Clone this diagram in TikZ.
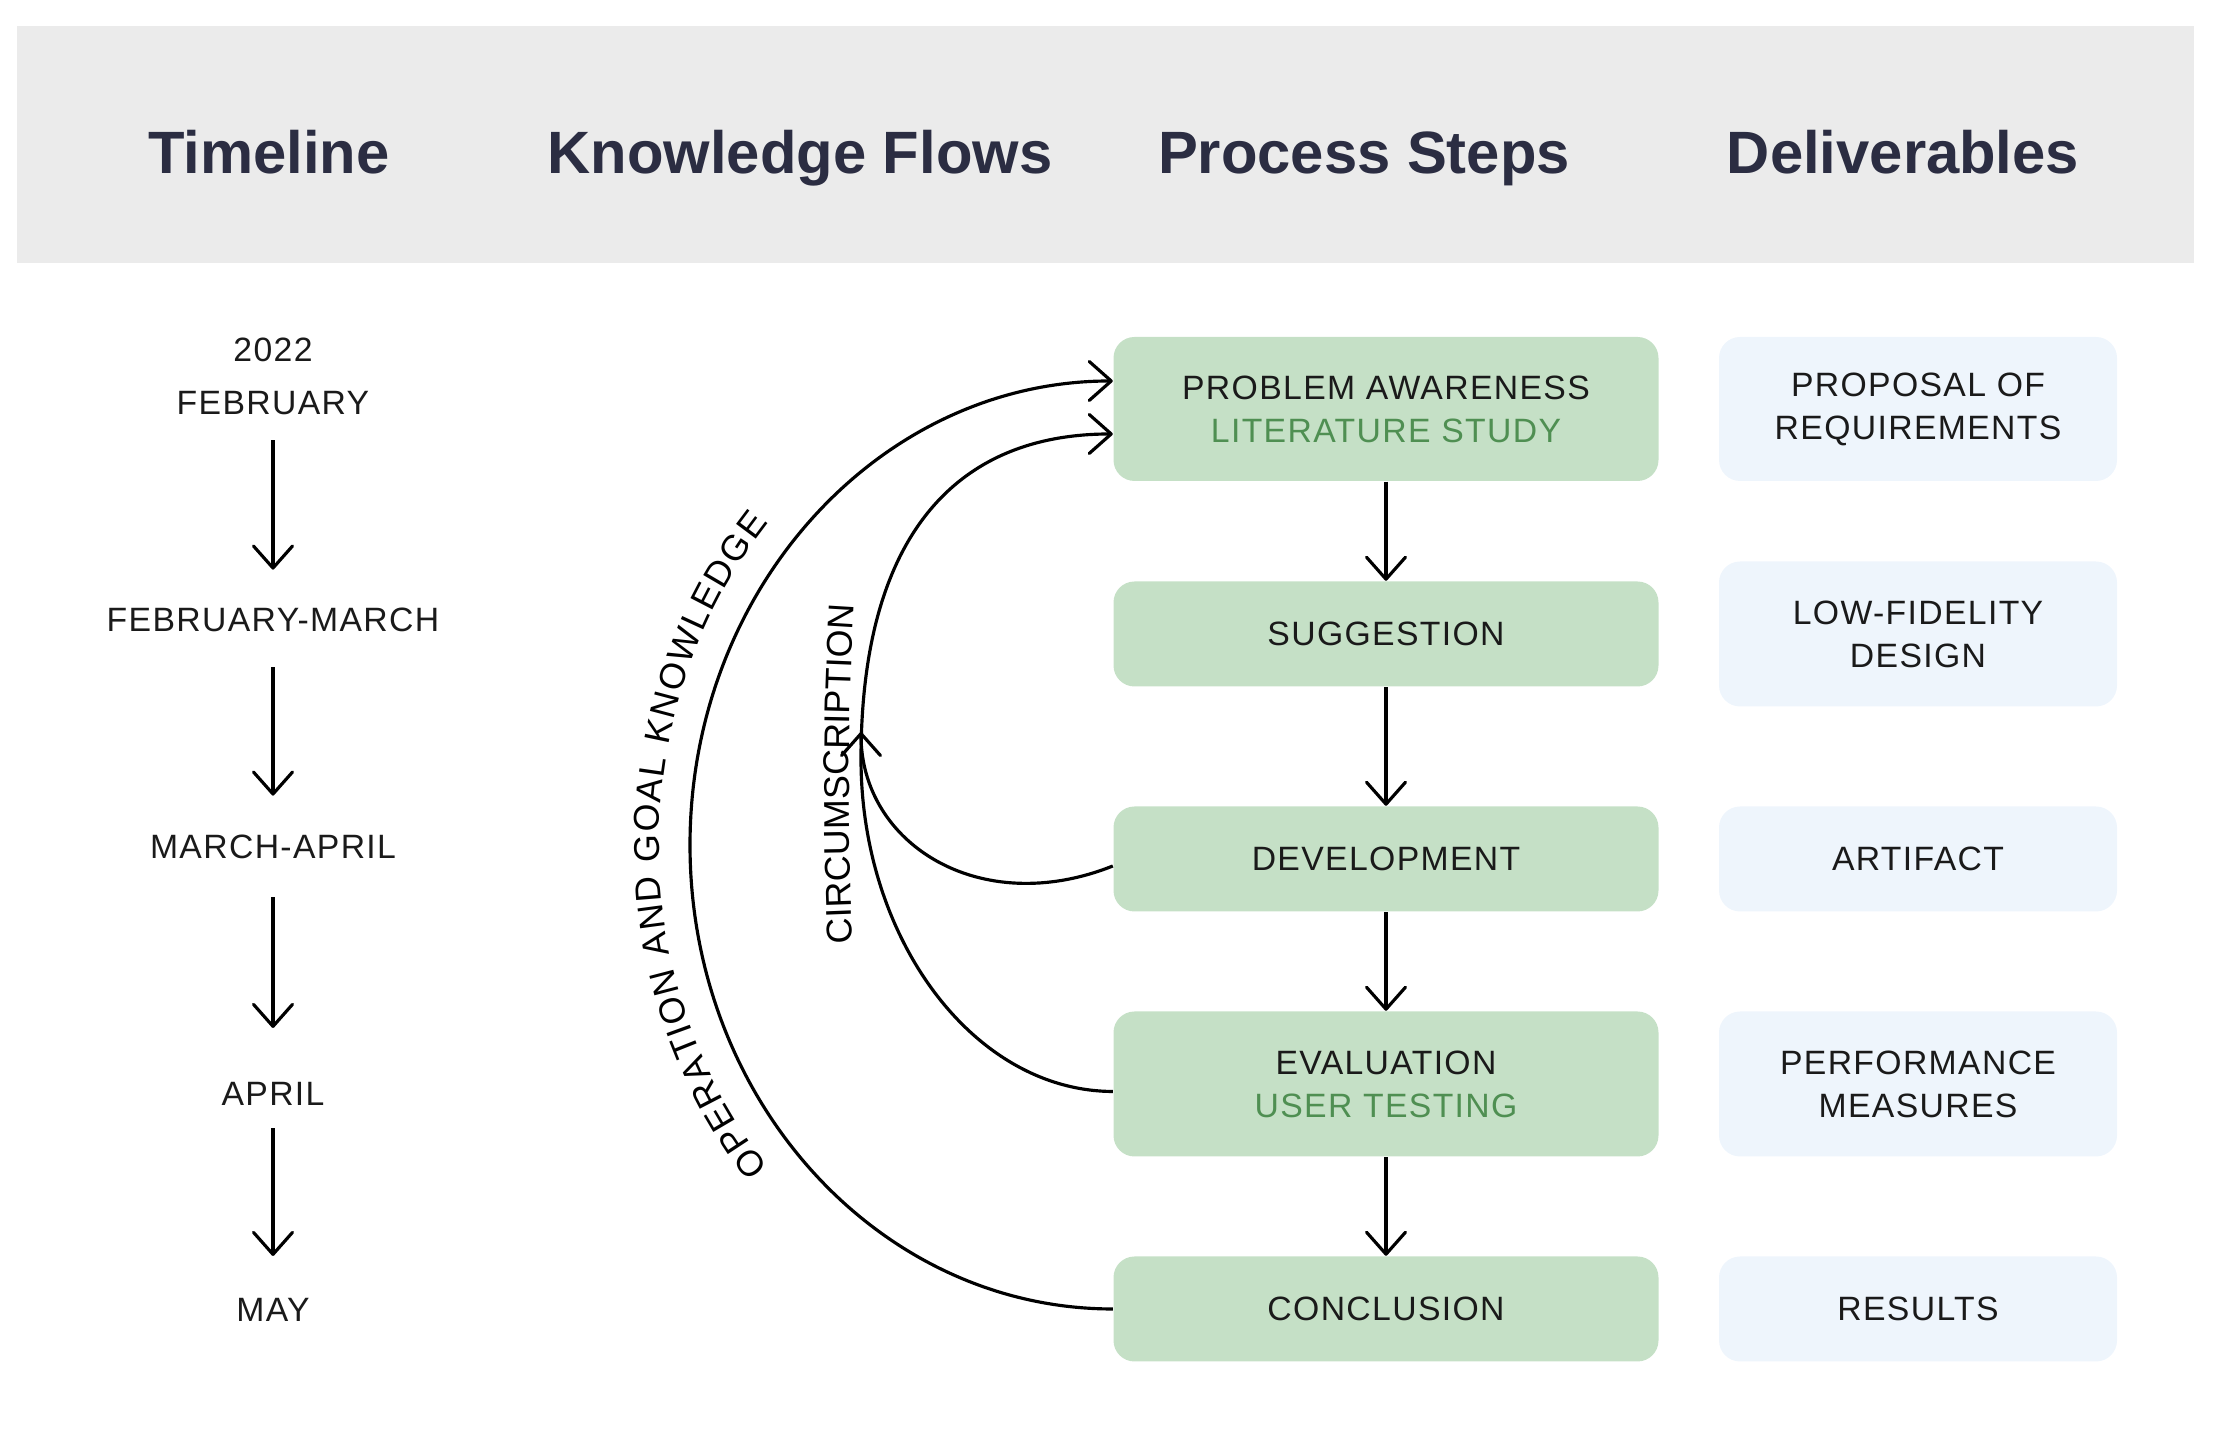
\documentclass[tikz,border=0pt]{standalone}
\usepackage{fontspec}
\setmainfont{Liberation Sans}
\newfontfamily\bodyfont[LetterSpace=4]{Liberation Sans}
\usepackage{tikz}
\usetikzlibrary{arrows.meta, decorations.text}
\definecolor{headbg}{HTML}{EBEBEB}
\definecolor{headtext}{HTML}{2B2D42}
\definecolor{stepgreen}{HTML}{C5E0C6}
\definecolor{subgreen}{HTML}{4F8F52}
\definecolor{delivblue}{HTML}{EEF5FC}
\definecolor{ink}{HTML}{1A1A1A}
\newcommand{\flowfont}{\bodyfont\fontsize{9.6}{12.2}\selectfont}
\newcommand{\pathfont}{\bodyfont\fontsize{10.2}{12.2}\selectfont}
\tikzstyle{headline} = [
	anchor=base,
	text=headtext,
	font=\fontsize{17}{20}\selectfont\bfseries
]
\tikzstyle{stepbox} = [
	rectangle,
	rounded corners=2.1mm,
	minimum width=5.45cm,
	minimum height=1.05cm,
	align=center,
	text=ink,
	fill=stepgreen,
	font=\flowfont
]
\tikzstyle{deliv} = [
	rectangle,
	rounded corners=2.1mm,
	minimum width=3.98cm,
	minimum height=1.05cm,
	align=center,
	text=ink,
	fill=delivblue,
	font=\flowfont
]
\tikzstyle{month} = [align=center, text=ink, font=\flowfont]
\tikzstyle{arrow} = [line width=0.9pt, -{Straight Barb[length=2.2mm, width=3.9mm, round]}]

\begin{document}
\begin{tikzpicture}[node distance=2.25cm]
            \useasboundingbox (0,0) rectangle (22.4,14.44);
            \fill [headbg] (0.17,11.81) rectangle (21.94,14.18);
            \node (htime) at (2.69,12.70) [headline] {Timeline};
            \node (hflow) at (8.00,12.70) [headline] {Knowledge Flows};
            \node (hstep) at (13.64,12.70) [headline] {Process Steps};
            \node (hdeliv) at (19.03,12.70) [headline] {Deliverables};
            % timeline
            \node (feb) at (2.73,10.675) [month] {2022\\[2.8pt]FEBRUARY};
            \node (febmar) at (2.73,8.24) [month] {FEBRUARY-MARCH};
            \node (marapr) at (2.73,5.97) [month] {MARCH-APRIL};
            \node (apr) at (2.73,3.50) [month] {APRIL};
            \node (may) at (2.73,1.34) [month] {MAY};
            \draw [arrow, shorten <=0.13cm, shorten >=0.26cm] (feb) -- (febmar);
            \draw [arrow, shorten <=0.23cm, shorten >=0.27cm] (febmar) -- (marapr);
            \draw [arrow, shorten <=0.26cm, shorten >=0.42cm] (marapr) -- (apr);
            \draw [arrow, shorten <=0.10cm, shorten >=0.30cm] (apr) -- (may);
            % process steps
            \node (prob) at (13.86,10.35) [stepbox, minimum height=1.44cm] {PROBLEM AWARENESS\\\textcolor{subgreen}{LITERATURE STUDY}};
            \node (sugg) [stepbox, below of=prob] {SUGGESTION};
            \node (dev) [stepbox, below of=sugg] {DEVELOPMENT};
            \node (eval) [stepbox, below of=dev, minimum height=1.45cm] {EVALUATION\\\textcolor{subgreen}{USER TESTING}};
            \node (conc) [stepbox, below of=eval] {CONCLUSION};
            \draw [arrow] (prob) -- (sugg);
            \draw [arrow] (sugg) -- (dev);
            \draw [arrow] (dev) -- (eval);
            \draw [arrow] (eval) -- (conc);
            % deliverables
            \node (prop) [deliv, right of=prob, node distance=5.32cm, minimum height=1.44cm] {PROPOSAL OF\\REQUIREMENTS};
            \node (lofi) [deliv, right of=sugg, node distance=5.32cm, minimum height=1.45cm] {LOW-FIDELITY\\DESIGN};
            \node (artif) [deliv, right of=dev, node distance=5.32cm] {ARTIFACT};
            \node (perf) [deliv, right of=eval, node distance=5.32cm, minimum height=1.45cm] {PERFORMANCE\\MEASURES};
            \node (res) [deliv, right of=conc, node distance=5.32cm] {RESULTS};
            % knowledge flows
            \coordinate (merge) at (8.61,7.12);
            \draw [arrow, postaction={decorate, decoration={text along path, text align=center, raise=0.31cm,
                text={|\pathfont|OPERATION AND GOAL KNOWLEDGE}}}]
                (conc.west) .. controls (8.796,1.35) and (6.90,3.427) .. (6.90,5.99)
                .. controls (6.90,8.553) and (8.796,10.63) .. ([yshift=2.8mm]prob.west);
            \draw [arrow] ([yshift=-0.75mm]eval.west) .. controls (9.735,3.53) and (8.61,5.05) .. (8.61,6.85)
                .. controls (8.61,9.05) and (9.535,10.10) .. ([yshift=-2.5mm]prob.west);
            \draw [arrow] ([yshift=-0.7mm]dev.west) .. controls (9.8,5.25) and (8.61,6.0) .. (merge);
            \path [decorate, decoration={text along path, text align=center, raise=0.08cm,
                text={|\pathfont|CIRCUMSCRIPTION}}]
                (8.62,4.80) .. controls (8.55,6.0) and (8.55,7.5) .. (8.64,8.60);
          \end{tikzpicture}
\end{document}
